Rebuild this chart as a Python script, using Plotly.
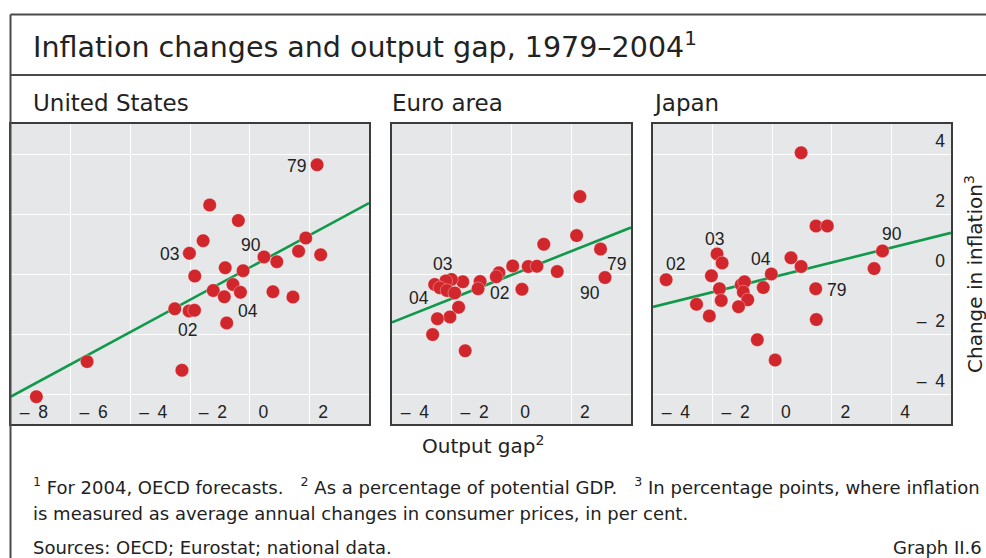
import plotly.graph_objects as go

# ---------------- data ----------------
us_gap = [2.26, -1.34, -0.38, -1.56, -2.02, 1.88, 0.48, 0.91, 1.64, 2.38, -0.82, -0.22, -1.84,
          -0.56, -1.22, -0.85, -0.31, 0.78, 1.45, -2.51, -2.03, -1.85, -0.77, -5.45, -2.27, -7.15]
us_infl = [3.64, 2.30, 1.78, 1.11, 0.69, 1.20, 0.57, 0.41, 0.76, 0.64, 0.21, 0.11, -0.07,
           -0.35, -0.55, -0.76, -0.61, -0.59, -0.77, -1.16, -1.23, -1.21, -1.63, -2.92, -3.21, -4.09]

ea_gap = [2.29, 2.18, 1.08, 2.98, 3.13, 0.04, 0.56, 0.85, 1.53, -0.42, -0.51, 0.35, -1.05,
          -1.12, -1.63, -2.01, -2.20, -2.57, -2.40, -2.16, -1.90, -1.77, -2.06, -2.48, -2.64, -1.55]
ea_infl = [2.58, 1.28, 0.99, 0.83, -0.12, 0.27, 0.25, 0.26, 0.08, 0.04, -0.09, -0.51, -0.25,
           -0.49, -0.26, -0.18, -0.23, -0.35, -0.46, -0.55, -0.63, -1.11, -1.43, -1.49, -2.02, -2.56]

jp_gap = [0.97, 1.47, 1.85, 3.70, 3.42, 0.63, 0.97, -0.03, -1.85, -1.68, -3.56, -2.04, -1.77,
          -1.71, -2.54, -2.11, -1.04, -0.93, -0.97, -0.82, -1.13, -0.30, 1.46, 1.48, -0.50, 0.10]
jp_infl = [4.04, 1.60, 1.60, 0.77, 0.18, 0.54, 0.25, 0.00, 0.67, 0.37, -0.19, -0.06, -0.49,
           -0.88, -1.01, -1.40, -0.36, -0.26, -0.60, -0.86, -1.09, -0.45, -0.49, -1.52, -2.19, -2.87]

# fitted regression lines (intercept, slope)
fit_intercept = {"us": 0.215, "ea": -0.03, "jp": -0.11}
fit_slope = {"us": 0.5375, "ea": 0.395, "jp": 0.247}

# year labels: (text, x, y)
us_labels = [("79", 1.56, 3.60), ("03", -2.70, 0.66), ("90", 0.06, 0.97), ("04", -0.06, -1.24), ("02", -2.09, -1.85)]
ea_labels = [("03", -2.32, 0.35), ("04", -3.09, -0.79), ("02", -0.39, -0.63), ("79", 3.50, 0.32), ("90", 2.63, -0.63)]
jp_labels = [("02", -3.23, 0.34), ("03", -1.94, 1.18), ("04", -0.39, 0.50), ("90", 4.03, 1.32), ("79", 2.16, -0.53)]

x_ranges = {"us": [-8, 4], "ea": [-4, 4], "jp": [-4, 6]}
x_ticks = {"us": [-8, -6, -4, -2, 0, 2], "ea": [-4, -2, 0, 2], "jp": [-4, -2, 0, 2, 4]}
y_range = [-5, 5]
y_ticks = [-4, -2, 0, 2, 4]


def tick_text(vals):
    return [("–\u2002%d" % abs(v)) if v < 0 else str(v) for v in vals]


# ---------------- figure ----------------
W, H = 986, 558
RED = "#d0262c"
GREEN = "#10994a"
BG = "#e6e7e9"
NUMFONT = "Liberation Sans"
FONT = "DejaVu Sans"
TXT = "#222"

fig = go.Figure()

panels = [
    ("us", us_gap, us_infl, us_labels, "x", "y"),
    ("ea", ea_gap, ea_infl, ea_labels, "x2", "y2"),
    ("jp", jp_gap, jp_infl, jp_labels, "x3", "y3"),
]

annotations = []
for key, gx, gy, labs, xa, ya in panels:
    xr = x_ranges[key]
    fy = [fit_intercept[key] + fit_slope[key] * v for v in xr]
    fig.add_trace(go.Scatter(x=xr, y=fy, mode="lines", line=dict(color=GREEN, width=2.6),
                             xaxis=xa, yaxis=ya, showlegend=False, hoverinfo="skip"))
    fig.add_trace(go.Scatter(x=gx, y=gy, mode="markers",
                             marker=dict(size=13.5, color=RED, line=dict(width=0.6, color="rgba(255,255,255,0.55)")),
                             xaxis=xa, yaxis=ya, showlegend=False))
    for t, lx, ly in labs:
        annotations.append(dict(text=t, x=lx, y=ly, xref=xa, yref=ya, showarrow=False,
                                font=dict(size=17.5, color=TXT, family=NUMFONT)))


def px_x(p):
    return p / W


def px_y(p):
    return 1 - p / H


ydom = [px_y(424), px_y(124)]
doms = {"us": [px_x(11), px_x(369)], "ea": [px_x(392), px_x(631)], "jp": [px_x(653), px_x(951)]}

common_axis = dict(showgrid=True, gridcolor="white", gridwidth=1.2, zeroline=False,
                   showline=True, mirror=True, linecolor="#3c3c3c", linewidth=1.6,
                   ticks="", tickfont=dict(size=17.5, color=TXT, family=NUMFONT), fixedrange=True)

layout_axes = {}
for i, key in enumerate(["us", "ea", "jp"]):
    sfx = "" if i == 0 else str(i + 1)
    layout_axes["xaxis" + sfx] = dict(common_axis, domain=doms[key], range=x_ranges[key],
                                      tickvals=x_ticks[key], ticktext=tick_text(x_ticks[key]),
                                      ticklabelposition="inside right", ticklabelshift=8,
                                      anchor="y" + sfx)
    yd = dict(common_axis, domain=ydom, range=y_range, tickvals=y_ticks,
              ticktext=tick_text(y_ticks), anchor="x" + sfx)
    if key == "jp":
        yd.update(side="right", ticklabelposition="inside top", showticklabels=True,
                  ticklabelshift=-1, ticklabelstandoff=6)
    else:
        yd.update(showticklabels=False)
    layout_axes["yaxis" + sfx] = yd


def ptxt(text, x, y, size, xanchor="left", yanchor="middle", angle=0):
    return dict(text=text, x=px_x(x), y=px_y(y), xref="paper", yref="paper", showarrow=False,
                xanchor=xanchor, yanchor=yanchor, textangle=angle,
                font=dict(size=size, color=TXT, family=FONT))


annotations += [
    ptxt("Inflation changes and output gap, 1979–2004<sup>1</sup>", 31, 45, 28.5),
    ptxt("United States", 31, 103, 23),
    ptxt("Euro area", 390, 103, 23),
    ptxt("Japan", 651, 103, 23),
    ptxt("Change in inflation<sup>3</sup>", 974, 274, 20, xanchor="center", angle=-90),
    ptxt("Output gap<sup>2</sup>", 483, 445, 20, xanchor="center"),
    ptxt("<sup>1</sup> For 2004, OECD forecasts.   <sup>2</sup> As a percentage of potential GDP.   "
         "<sup>3</sup> In percentage points, where inflation", 31, 486, 18),
    ptxt("is measured as average annual changes in consumer prices, in per cent.", 31, 513, 18),
    ptxt("Sources: OECD; Eurostat; national data.", 31, 547, 18),
    ptxt("Graph II.6", 984, 547, 18, xanchor="right"),
]

frame = dict(color="#4a4a4a", width=2)
shapes = [
    dict(type="line", xref="paper", yref="paper", x0=px_x(10.5), x1=1.0, y0=px_y(14.5), y1=px_y(14.5), line=frame),
    dict(type="line", xref="paper", yref="paper", x0=px_x(10.5), x1=1.0, y0=px_y(75), y1=px_y(75), line=frame),
    dict(type="line", xref="paper", yref="paper", x0=px_x(10.5), x1=px_x(10.5), y0=px_y(14.5), y1=0, line=frame),
]

fig.update_layout(
    width=W, height=H, margin=dict(l=0, r=0, t=0, b=0),
    paper_bgcolor="white", plot_bgcolor=BG,
    annotations=annotations, shapes=shapes,
    font=dict(family=FONT, color=TXT),
    **layout_axes,
)

fig.write_html("out.html", config={"displayModeBar": False},
               post_script="document.body.style.margin='0';document.body.style.overflow='hidden';")
